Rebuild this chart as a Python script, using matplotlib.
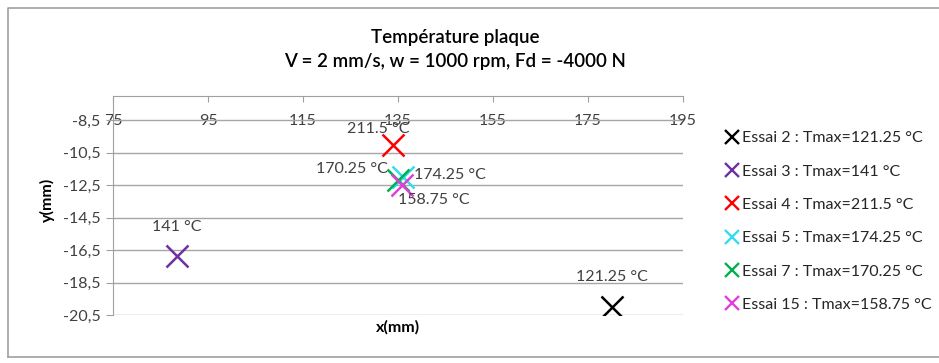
import numpy as np
import matplotlib
matplotlib.use("Agg")
from matplotlib import pyplot as plt
from matplotlib.lines import Line2D

plt.rcParams['font.family'] = ['Lato', 'DejaVu Sans']

# data
essais = ["Essai 2", "Essai 3", "Essai 4", "Essai 5", "Essai 7", "Essai 15"]
tmax = ["121.25", "141", "211.5", "174.25", "170.25", "158.75"]
xs = [180, 88.4, 134.0, 136.1, 135.0, 135.8]
ys = [-20.0, -16.85, -10.0, -11.97, -12.17, -12.48]
colors = ["#000000", "#7030A0", "#FF0000", "#33DDEE", "#00B050", "#E040D8"]
# label offsets (points) and alignment
offs = [(0, 21.5, "center"), (0, 21, "center"), (-11, 11, "center"),
        (8, 1, "left"), (-7, 8, "right"), (-3, -11, "left")]

xticks = np.arange(75, 196, 20)
yticks = np.arange(-20.5, -8.4, 2)

fig = plt.figure(figsize=(9.39, 3.63), dpi=100)
ax = fig.add_axes([113/939, 1-315/363, 570/939, 219/363])

for i in range(len(essais)):
    ax.plot(xs[i], ys[i], marker="x", ls="none", ms=16.5, mew=1.8, color=colors[i],
            label=essais[i] + " : Tmax=" + tmax[i] + " °C", zorder=3)
    dx, dy, ha = offs[i]
    ax.annotate(tmax[i] + " °C", (xs[i], ys[i]), xytext=(dx, dy), textcoords="offset points",
                ha=ha, va="center", fontsize=11.5, color="#404040", zorder=4)

ax.set_xlim(75, 195)
ax.set_ylim(-20.5, -7)
ax.set_xticks(xticks)
ax.set_yticks(yticks)
ax.set_yticklabels([("%.1f" % v).replace(".", ",") for v in yticks])
ax.xaxis.tick_top()
ax.tick_params(axis="x", direction="in", length=4, color="#A0A0A0", pad=-23,
               labelsize=11.5, labelcolor="#404040")
ax.tick_params(axis="y", direction="out", length=5, color="#A0A0A0", pad=4,
               labelsize=11.5, labelcolor="#404040")
ax.grid(axis="y", color="#A6A6A6", lw=1)
ax.set_axisbelow(True)
for s in ["right", "bottom"]:
    ax.spines[s].set_visible(False)
for s in ["left", "top"]:
    ax.spines[s].set_color("#A0A0A0")

ax.set_xlabel("x(mm)", fontsize=11.5, fontweight="bold", va="center")
ax.set_ylabel("y(mm)", fontsize=11.5, fontweight="bold", va="center")
ax.xaxis.set_label_coords(0.5, -0.055)
ax.yaxis.set_label_coords(-0.115, 0.525)

fig.text(455/939, 1-38/363, "Température plaque", ha="center", va="center", fontsize=13.5,
         fontweight="semibold")
fig.text(455/939, 1-62/363, "V = 2 mm/s, w = 1000 rpm, Fd = -4000 N", ha="center", va="center",
         fontsize=13.5, fontweight="semibold")

handles = [Line2D([], [], marker="x", ls="none", ms=9.5, mew=1.7, color=c) for c in colors]
labels = [e + " : Tmax=" + t + " °C" for e, t in zip(essais, tmax)]
fig.legend(handles, labels, loc="upper left", bbox_to_anchor=(718/939, 1-123/363),
           frameon=False, fontsize=11.5, handlelength=0.8, handletextpad=0.2,
           labelspacing=1.2, borderpad=0, labelcolor="#262626")

# outer chart frame
fig.add_artist(Line2D([8/939, 8/939, 1.0], [1-357/363, 1-8/363, 1-8/363],
                      transform=fig.transFigure, color="#A0A0A0", lw=1.2))
fig.add_artist(Line2D([8/939, 1.0], [1-357/363, 1-357/363],
                      transform=fig.transFigure, color="#A0A0A0", lw=1.2))

fig.savefig("out.png", dpi=100)
